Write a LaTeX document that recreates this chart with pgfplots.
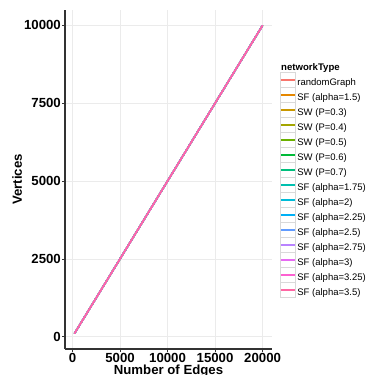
\documentclass[border=0pt]{standalone}
\usepackage{pgfplots}
\pgfplotsset{compat=1.18}
\usepackage{fontspec}
\setmainfont{Liberation Sans}
\definecolor{c1}{HTML}{F8766D}
\definecolor{c2}{HTML}{E58700}
\definecolor{c3}{HTML}{C99800}
\definecolor{c4}{HTML}{A3A500}
\definecolor{c5}{HTML}{6BB100}
\definecolor{c6}{HTML}{00BA38}
\definecolor{c7}{HTML}{00BF7D}
\definecolor{c8}{HTML}{00C0AF}
\definecolor{c9}{HTML}{00BCD8}
\definecolor{c10}{HTML}{00B0F6}
\definecolor{c11}{HTML}{619CFF}
\definecolor{c12}{HTML}{B983FF}
\definecolor{c13}{HTML}{E76BF3}
\definecolor{c14}{HTML}{FD61D1}
\definecolor{c15}{HTML}{FF67A4}
\definecolor{gridc}{HTML}{EBEBEB}
\definecolor{keyc}{HTML}{D9D9D9}
\begin{document}
\begin{tikzpicture}
\begin{axis}[
  at={(65pt,26pt)}, anchor=south west,
  scale only axis, width=207pt, height=339pt,
  xmin=-790, xmax=20990, ymin=-395, ymax=10495,
  axis lines*=left,
  axis line style={black!80, line width=1.2pt, -},
  xtick={0,5000,10000,15000,20000},
  ytick={0,2500,5000,7500,10000},
  scaled ticks=false,
  /pgf/number format/set thousands separator={},
  /pgf/number format/assume math mode=true,
  tick align=outside, major tick length=3pt,
  tick style={black!80, line width=0.6pt},
  grid=major, major grid style={gridc, line width=0.6pt},
  ticklabel style={font=\fontsize{13.2}{15}\selectfont\bfseries, black, inner sep=1pt},
  label style={font=\fontsize{13.2}{15}\selectfont\bfseries, black},
  xlabel={Number of Edges}, ylabel={Vertices},
  xlabel style={inner sep=1pt},
  ylabel style={inner sep=1pt},
  legend cell align=left,
  legend style={at={(1,0.842)}, anchor=north west, xshift=8pt,
    draw=none, fill=none, inner sep=0pt, row sep=0pt,
    column sep=1.7pt,
    nodes={inner sep=0pt, font=\fontsize{9.5}{11}\selectfont, text=black}},
  legend image code/.code={
    \draw[keyc, line width=0.5pt] (0pt,-4.0pt) rectangle (15pt,10.5pt);
    \draw[#1, line width=1.6pt] (0.8pt,3.25pt) -- (14.2pt,3.25pt);
  },
  every axis plot/.append style={line width=1.5pt},
]
\addlegendimage{empty legend}
\addlegendentry{\makebox[0pt][l]{\hspace*{-16.7pt}\fontsize{9.6}{11}\selectfont\bfseries networkType}\rule[-5.1pt]{0pt}{5.1pt}}
\addplot[c1] coordinates {(200,100) (10000,5000) (20000,10000)};
\addlegendentry{randomGraph}
\addplot[c2] coordinates {(200,100) (10000,5000) (20000,10000)};
\addlegendentry{SF (alpha=1.5)}
\addplot[c3] coordinates {(200,100) (10000,5000) (20000,10000)};
\addlegendentry{SW (P=0.3)}
\addplot[c4] coordinates {(200,100) (10000,5000) (20000,10000)};
\addlegendentry{SW (P=0.4)}
\addplot[c5] coordinates {(200,100) (10000,5000) (20000,10000)};
\addlegendentry{SW (P=0.5)}
\addplot[c6] coordinates {(200,100) (10000,5000) (20000,10000)};
\addlegendentry{SW (P=0.6)}
\addplot[c7] coordinates {(200,100) (10000,5000) (20000,10000)};
\addlegendentry{SW (P=0.7)}
\addplot[c8] coordinates {(200,100) (10000,5000) (20000,10000)};
\addlegendentry{SF (alpha=1.75)}
\addplot[c9] coordinates {(200,100) (10000,5000) (20000,10000)};
\addlegendentry{SF (alpha=2)}
\addplot[c10] coordinates {(200,100) (10000,5000) (20000,10000)};
\addlegendentry{SF (alpha=2.25)}
\addplot[c11] coordinates {(200,100) (10000,5000) (20000,10000)};
\addlegendentry{SF (alpha=2.5)}
\addplot[c12] coordinates {(200,100) (10000,5000) (20000,10000)};
\addlegendentry{SF (alpha=2.75)}
\addplot[c13] coordinates {(200,100) (10000,5000) (20000,10000)};
\addlegendentry{SF (alpha=3)}
\addplot[c14] coordinates {(200,100) (10000,5000) (20000,10000)};
\addlegendentry{SF (alpha=3.25)}
\addplot[c15] coordinates {(200,100) (10000,5000) (20000,10000)};
\addlegendentry{SF (alpha=3.5)}
\end{axis}
\pgfresetboundingbox
\useasboundingbox (0pt,0pt) rectangle (367pt,375pt);
\end{tikzpicture}
\end{document}
